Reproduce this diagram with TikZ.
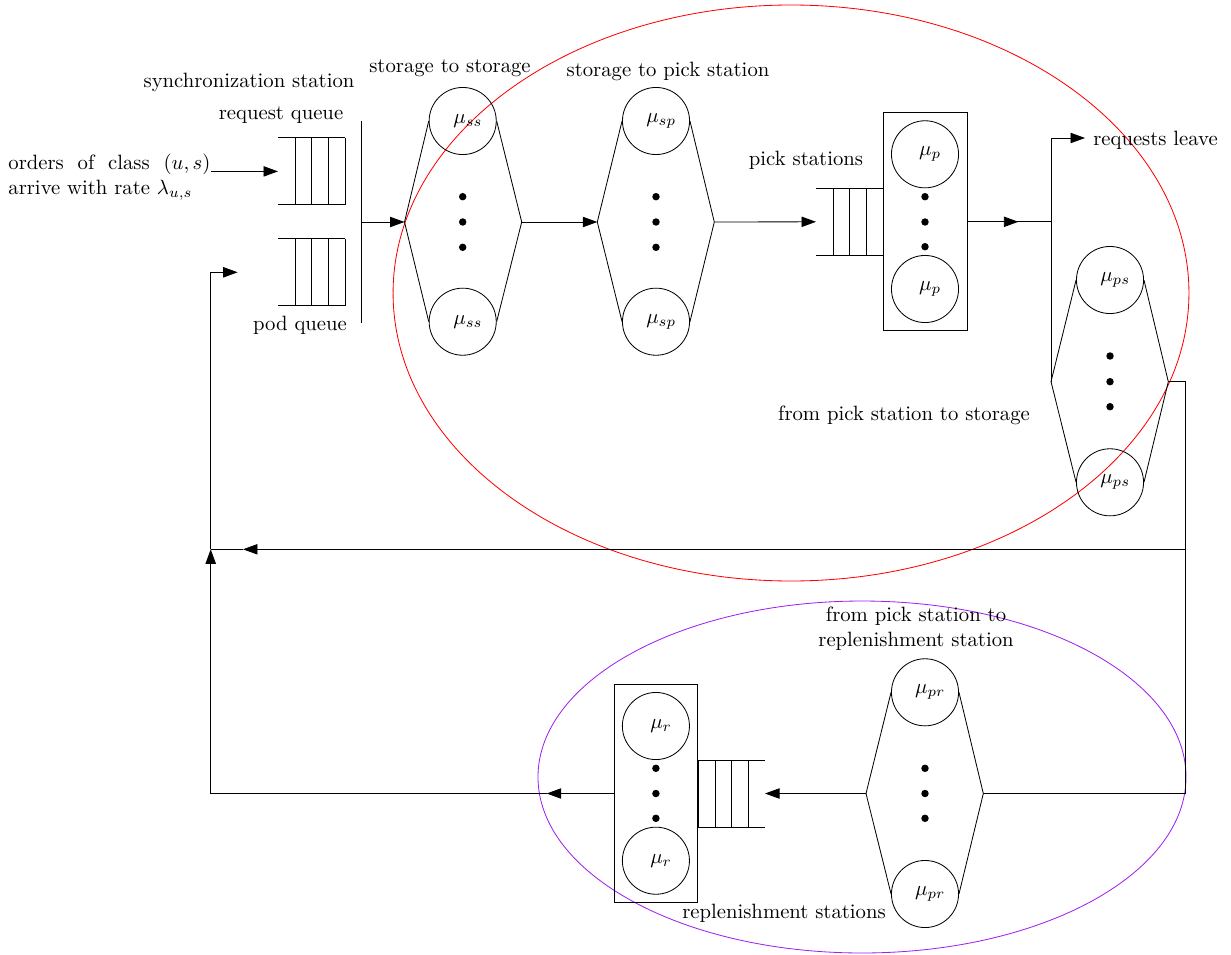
\documentclass[tikz,border=0pt]{standalone}
\usetikzlibrary{arrows.meta}
\definecolor{ellpurple}{RGB}{160,32,240}
\tikzset{
  queueopenleft/.pic={
    \draw (0,-33.5) -- (67,-33.5) (0,33.5) -- (67,33.5);
    \foreach \qx in {17,33.5,50,67} \draw (\qx,-33.5) -- (\qx,33.5);
  },
  queueopenright/.pic={
    \draw (0,-33.5) -- (-67,-33.5) (0,33.5) -- (-67,33.5);
    \foreach \qx in {-17,-33.5,-50,-67} \draw (\qx,-33.5) -- (\qx,33.5);
  },
}
\begin{document}
\begin{tikzpicture}[x=0.483pt,y=-0.483pt,
  arr/.style={-{Triangle[length=7pt,width=5pt]}},
  server/.style={circle,draw,minimum size=32.4pt,inner sep=0pt,
    label={[xshift=2.5pt]center:$\mu_{#1}$}},
  dotnode/.style={circle,fill,minimum size=3.6pt,inner sep=0pt},
  stationbox/.style={draw,minimum width=40.5pt,minimum height=105.3pt,inner sep=0pt},
  lbl/.style={inner sep=0pt}]
\useasboundingbox (0,0) rectangle (1231,954);

% ellipses
\draw[red] (791,293) ellipse [x radius=192.2pt, y radius=139.1pt];
\draw[ellpurple] (862,777) ellipse [x radius=156.5pt, y radius=85pt];

% texts
\node[lbl,anchor=west,text width=97.6pt,align=justify] (orders) at (8,177)
  {orders of class $(u,s)$ arrive with rate $\lambda_{u,s}$};
\node[lbl] (tsync) at (249,82) {synchronization station};
\node[lbl] (treq) at (281,115) {request queue};
\node[lbl] (tpod) at (300,325) {pod queue};
\node[lbl] (tss) at (450,68) {storage to storage};
\node[lbl] (tsp) at (668,71) {storage to pick station};
\node[lbl] (tpick) at (806,160) {pick stations};
\node[lbl] (tleave) at (1155.5,140) {requests leave};
\node[lbl] (tps) at (904,415) {from pick station to storage};
\node[lbl,align=center] (tpr) at (916,629) {from pick station to\\replenishment station};
\node[lbl] (trep) at (784,913) {replenishment stations};

% queues
\pic at (278,171.4) {queueopenleft};
\coordinate (rq) at (278,171.4);
\pic at (278,272.3) {queueopenleft};
\coordinate (pq) at (278,272.3);
\pic at (816,221.8) {queueopenleft};
\coordinate (pkq) at (816,221.8);
\pic at (765,793.5) {queueopenright};
\coordinate (rpq) at (765,793.5);

% synchronization bar
\coordinate (syncT) at (361.7,121);
\coordinate (syncB) at (361.7,322.7);
\coordinate (syncM) at (361.7,222);
\draw (syncT) -- (syncB);

% storage to storage
\node[server=ss] (ss1) at (462.7,121) {};
\node[server=ss] (ss2) at (462.7,321.7) {};
\coordinate (ssL) at (404.5,222);
\coordinate (ssR) at (521.7,222);
\draw (ss1.west) -- (ssL) -- (ss2.west) (ss1.east) -- (ssR) -- (ss2.east);
\foreach \dy [count=\i] in {196.7,222,247.3} \node[dotnode] (ssd\i) at (462.7,\dy) {};

% storage to pick station
\node[server=sp] (sp1) at (656,121) {};
\node[server=sp] (sp2) at (656,321.7) {};
\coordinate (spL) at (597.3,222);
\coordinate (spR) at (714.3,222);
\draw (sp1.west) -- (spL) -- (sp2.west) (sp1.east) -- (spR) -- (sp2.east);
\foreach \dy [count=\i] in {196.7,222,247.3} \node[dotnode] (spd\i) at (656,\dy) {};

% pick stations
\node[stationbox] (pbox) at (925,221.8) {};
\node[server=p] (p1) at (925,154.3) {};
\node[server=p] (p2) at (925,289) {};
\foreach \dy [count=\i] in {196.7,222,246.7} \node[dotnode] (pd\i) at (925,\dy) {};

% pick station to storage
\node[server=ps] (ps1) at (1110,280) {};
\node[server=ps] (ps2) at (1110,482.3) {};
\coordinate (psL) at (1051,381.7);
\coordinate (psR) at (1168.3,381.7);
\draw (ps1.west) -- (psL) -- (ps2.west) (ps1.east) -- (psR) -- (ps2.east);
\foreach \dy [count=\i] in {356,381.7,406.7} \node[dotnode] (psd\i) at (1110,\dy) {};

% pick station to replenishment
\node[server=pr] (pr1) at (925,692.3) {};
\node[server=pr] (pr2) at (925,894) {};
\coordinate (prL) at (866,793.5);
\coordinate (prR) at (983.3,793.5);
\draw (pr1.west) -- (prL) -- (pr2.west) (pr1.east) -- (prR) -- (pr2.east);
\foreach \dy [count=\i] in {768.3,793.5,818.3} \node[dotnode] (prd\i) at (925,\dy) {};

% replenishment stations
\node[stationbox] (rbox) at (655.9,793.5) {};
\node[server=r] (r1) at (655.9,726) {};
\node[server=r] (r2) at (655.9,860.7) {};
\foreach \dy [count=\i] in {768.3,793.5,818.3} \node[dotnode] (rd\i) at (655.9,\dy) {};

% junction coordinates
\coordinate (ordStart) at (211,171.4);
\coordinate (J1) at (1051,221.8);
\coordinate (leaveTip) at (1085,138);
\coordinate (RC1) at (1185,381.7);
\coordinate (RC2) at (1185,549.3);
\coordinate (RC3) at (1185,793.5);
\coordinate (retTip) at (243,549.3);
\coordinate (LC1) at (210.7,549.3);
\coordinate (LC2) at (210.7,793.5);
\coordinate (repTip) at (546.7,793.5);
\coordinate (podTip) at (237.7,272.3);

% connectors
\draw[arr] (ordStart) -- (rq);
\draw[arr] (syncM) -- (ssL);
\draw[arr] (ssR) -- (spL);
\draw[arr] (spR) -- (pkq);
\draw (pbox.east) -- (J1);
\draw[arr] (pbox.east) -- ++(51,0);
\draw[arr] (J1) |- (leaveTip);
\draw (J1) -- (psL);
\draw (psR) -- (RC1) -- (RC3) -- (prR);
\draw[arr] (RC2) -- (retTip);
\draw (retTip) -- (LC1);
\draw[arr] (prL) -- (rpq);
\draw[arr] (rbox.west) -- (repTip);
\draw[arr] (repTip) -- (LC2) -- (LC1);
\draw[arr] (LC1) |- (podTip);
\end{tikzpicture}
\end{document}
